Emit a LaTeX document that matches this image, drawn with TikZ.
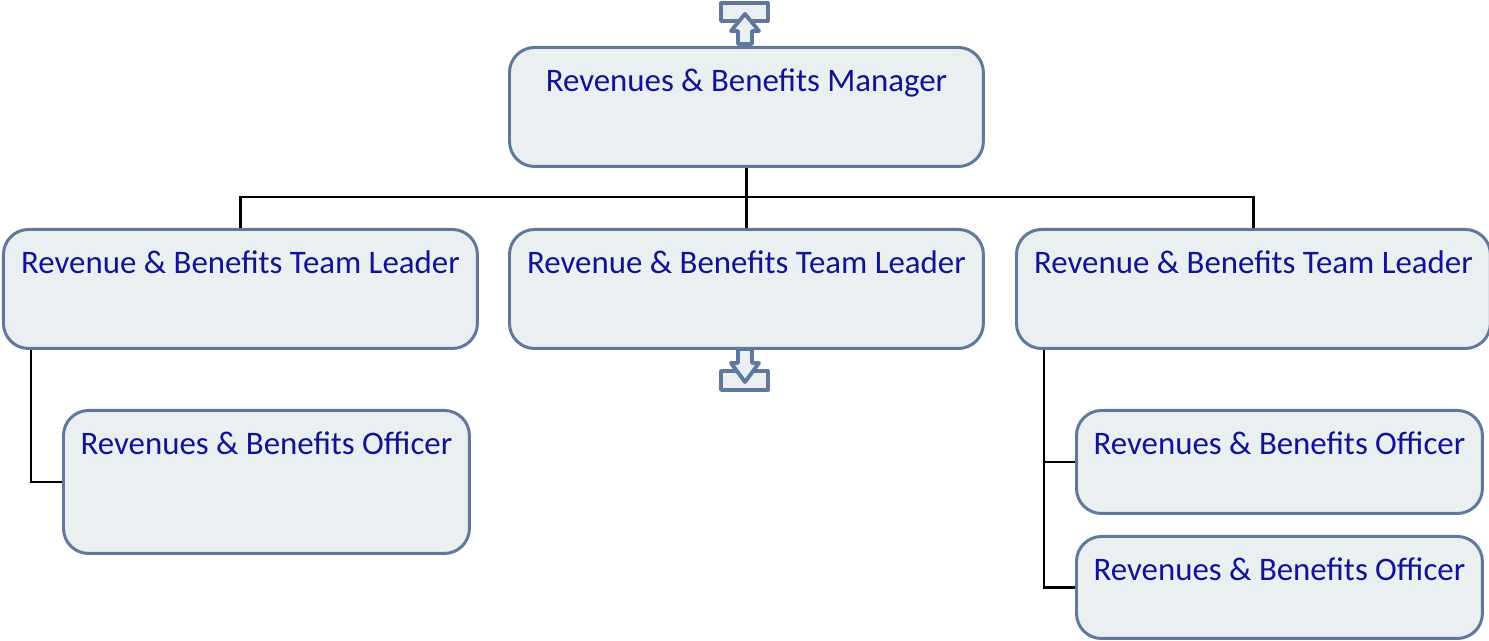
\documentclass[tikz,border=0pt]{standalone}
\usepackage{fontspec}
\setmainfont{Carlito}
\usepackage{xcolor}
\usepackage{tikz}
\usetikzlibrary{positioning, shapes, arrows.meta}

\definecolor{boxfill}{RGB}{234,239,242}
\definecolor{boxline}{RGB}{95,120,156}
\definecolor{boxtext}{RGB}{18,18,150}

\begin{document}
\begin{tikzpicture}[
    x=0.02cm, y=-0.02cm,
    rolebox/.style={rectangle, rounded corners=0.5cm, draw=boxline, fill=boxfill, line width=1.7pt,
        inner sep=0pt, anchor=north west, align=center, text=boxtext,
        font=\fontsize{18.7}{23}\selectfont, text height=0.88cm},
    widebox/.style={rolebox, minimum width=9.48cm, text depth=1.5cm},
    officer/.style={rolebox, minimum width=8.12cm},
    link/.style={draw=black, line width=1.3pt},
    marker/.style={draw=boxline, fill=boxfill, line width=2.2pt, line join=round}
]
\useasboundingbox (0,0) rectangle (1489,641);

% Manager
\node[widebox] (mgr) at (508,46) {Revenues \& Benefits Manager};

% Team leaders
\node[widebox] (tl1) at (2,228) {Revenue \& Benefits Team Leader};
\node[widebox] (tl2) at (508,228) {Revenue \& Benefits Team Leader};
\node[widebox] (tl3) at (1015,228) {Revenue \& Benefits Team Leader};

% Officers
\node[officer, text depth=1.98cm] (off1) at (62,409) {Revenues \& Benefits Officer};
\node[officer, text depth=1.18cm] (off2) at (1075,409) {Revenues \& Benefits Officer};
\node[officer, text depth=1.16cm] (off3) at (1075,535) {Revenues \& Benefits Officer};

% Connectors
\draw[link] (mgr.south) -- (tl2.north);
\draw[link] (tl1.north) -- ++(0,-31) -| (tl3.north);
\draw[link] ([xshift=0.58cm]tl1.south west) |- (off1.west);
\draw[link] ([xshift=0.58cm]tl3.south west) |- (off3.west);
\draw[link] (off2.west) -- ++(-31,0);

% Page markers
\draw[marker] (721,3) rectangle (768,21);
\draw[marker] (745,14) -- (759,31) -- (752,31) -- (752,44) -- (738,44) -- (738,31) -- (731,31) -- cycle;
\draw[marker] (721,371) rectangle (768,390);
\draw[marker] (745,382) -- (759,363) -- (752,363) -- (752,349) -- (738,349) -- (738,363) -- (731,363) -- cycle;

\end{tikzpicture}
\end{document}
